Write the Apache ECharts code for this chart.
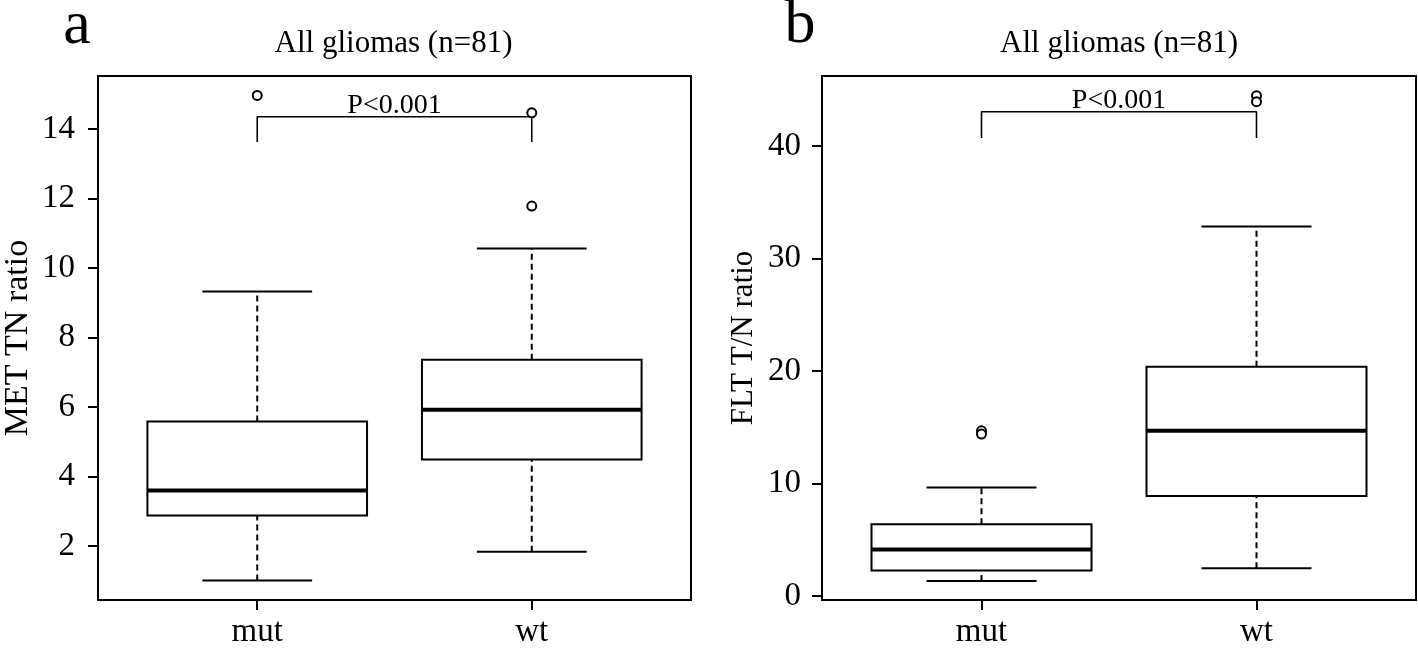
<!DOCTYPE html>
<html>
<head>
<meta charset="utf-8">
<script src="https://cdn.jsdelivr.net/npm/echarts@6/dist/echarts.min.js"></script>
<style>
html,body{margin:0;padding:0;background:#fff;}
#chart{width:1418px;height:649px;}
</style>
</head>
<body>
<div id="chart"></div>
<script>
// ---- data ----
const groups = ['mut', 'wt'];
const titleText = 'All gliomas (n=81)';
const panelLetters = ['a', 'b'];
const yNames = ['MET TN ratio', 'FLT T/N ratio'];
const pText = 'P<0.001';

const metTicks = [2, 4, 6, 8, 10, 12, 14];
const fltTicks = [0, 10, 20, 30, 40];

// [lower whisker, Q1, median, Q3, upper whisker]
const metBox = [
  [1.01, 2.88, 3.60, 5.58, 9.32],
  [1.84, 4.49, 5.92, 7.36, 10.56]
];
const metOut = [[1, 14.96], [2, 14.46], [2, 11.78]];
const metBracket = [13.62, 14.35];

const fltBox = [
  [1.35, 2.27, 4.15, 6.38, 9.65],
  [2.48, 8.89, 14.69, 20.38, 32.86]
];
const fltOut = [[1, 14.69], [1, 14.40], [2, 44.49], [2, 43.96]];
const fltBracket = [40.72, 43.06];

const xRange = [0.42, 2.58];
const metRange = [0.45, 15.52];
const fltRange = [-0.35, 46.24];

// ---- chart ----
const FONT = 'Liberation Serif';
const chart = echarts.init(document.getElementById('chart'), null, {renderer: 'canvas'});

const grids = [
  {left: 96, top: 76, width: 595, height: 533},
  {left: 822, top: 76, width: 594, height: 533}
];

function boxRender(params, api) {
  const x = api.value(0);
  const c = i => api.coord([x, api.value(i)]);
  const lo = c(1), q1 = c(2), med = c(3), q3 = c(4), hi = c(5);
  const hb = api.size([0.4, 0])[0];
  const hc = api.size([0.2, 0])[0];
  const cx = lo[0];
  const solid = {stroke: '#000', lineWidth: 2};
  const dashed = {stroke: '#000', lineWidth: 2, lineDash: [6, 4]};
  return {
    type: 'group',
    children: [
      {type: 'line', shape: {x1: cx, y1: q3[1], x2: cx, y2: hi[1]}, style: dashed},
      {type: 'line', shape: {x1: cx, y1: lo[1], x2: cx, y2: q1[1]}, style: dashed},
      {type: 'line', shape: {x1: cx - hc, y1: hi[1], x2: cx + hc, y2: hi[1]}, style: solid},
      {type: 'line', shape: {x1: cx - hc, y1: lo[1], x2: cx + hc, y2: lo[1]}, style: solid},
      {type: 'rect', shape: {x: cx - hb, y: q3[1], width: 2 * hb, height: q1[1] - q3[1]},
        style: {fill: '#fff', stroke: '#000', lineWidth: 2}},
      {type: 'line', shape: {x1: cx - hb, y1: med[1], x2: cx + hb, y2: med[1]},
        style: {stroke: '#000', lineWidth: 4}}
    ]
  };
}

function pRender(params, api) {
  const p = api.coord([api.value(0), api.value(1)]);
  return {
    type: 'text', x: p[0], y: p[1] + 3,
    style: {text: pText, font: '28px "Liberation Serif"', fill: '#000',
      align: 'center', verticalAlign: 'bottom'}
  };
}

function makeX(idx) {
  return {
    gridIndex: idx, type: 'value', min: xRange[0], max: xRange[1], position: 'bottom',
    axisLine: {show: false, onZero: false},
    splitLine: {show: false},
    axisTick: {show: true, length: 10, customValues: [1, 2], lineStyle: {color: '#000', width: 2}},
    axisLabel: {show: true, customValues: [1, 2], formatter: v => groups[Math.round(v) - 1],
      fontSize: 33, fontFamily: FONT, color: '#000', margin: 16}
  };
}
function makeY(idx, range, ticks, name, margin, nameSize) {
  return {
    gridIndex: idx, type: 'value', min: range[0], max: range[1],
    name: name, nameLocation: 'middle', nameGap: 63,
    nameTextStyle: {fontSize: nameSize, fontFamily: FONT, color: '#000'},
    axisLine: {show: false, onZero: false},
    splitLine: {show: false},
    axisTick: {show: true, length: 10, customValues: ticks, lineStyle: {color: '#000', width: 2}},
    axisLabel: {show: true, customValues: ticks, fontSize: 33, fontFamily: FONT, color: '#000', margin: margin}
  };
}

function panelSeries(idx, box, out, bracket) {
  return [
    {
      type: 'custom', xAxisIndex: idx, yAxisIndex: idx, renderItem: boxRender,
      encode: {x: 0, y: [1, 2, 3, 4, 5]},
      data: box.map((s, i) => [i + 1].concat(s)), silent: true
    },
    {
      type: 'scatter', xAxisIndex: idx, yAxisIndex: idx, symbol: 'circle', symbolSize: 9,
      itemStyle: {color: '#fff', borderColor: '#000', borderWidth: 2, opacity: 1},
      data: out, silent: true, z: 5
    },
    {
      type: 'line', xAxisIndex: idx, yAxisIndex: idx, symbol: 'none',
      lineStyle: {color: '#000', width: 1.6},
      data: [[1, bracket[0]], [1, bracket[1]], [2, bracket[1]], [2, bracket[0]]],
      silent: true
    },
    {
      type: 'custom', xAxisIndex: idx, yAxisIndex: idx, renderItem: pRender,
      encode: {x: 0, y: 1},
      data: [[1.5, bracket[1]]], silent: true, z: 6
    }
  ];
}

const option = {
  animation: false,
  backgroundColor: '#fff',
  grid: grids.map(g => Object.assign({show: true, borderColor: '#000', borderWidth: 2,
    backgroundColor: 'transparent', containLabel: false}, g)),
  xAxis: [makeX(0), makeX(1)],
  yAxis: [makeY(0, metRange, metTicks, yNames[0], 23, 34), makeY(1, fltRange, fltTicks, yNames[1], 21, 31)],
  series: [].concat(panelSeries(0, metBox, metOut, metBracket), panelSeries(1, fltBox, fltOut, fltBracket)),
  graphic: [
    {type: 'text', x: 77, y: 27, style: {text: panelLetters[0], font: '62px "Liberation Serif"',
      fill: '#000', align: 'center', verticalAlign: 'middle'}},
    {type: 'text', x: 800, y: 26, style: {text: panelLetters[1], font: '62px "Liberation Serif"',
      fill: '#000', align: 'center', verticalAlign: 'middle'}},
    {type: 'text', x: 393.5, y: 44, style: {text: titleText, font: '31px "Liberation Serif"',
      fill: '#000', align: 'center', verticalAlign: 'middle'}},
    {type: 'text', x: 1119, y: 44, style: {text: titleText, font: '31px "Liberation Serif"',
      fill: '#000', align: 'center', verticalAlign: 'middle'}}
  ]
};
chart.setOption(option);
</script>
</body>
</html>
